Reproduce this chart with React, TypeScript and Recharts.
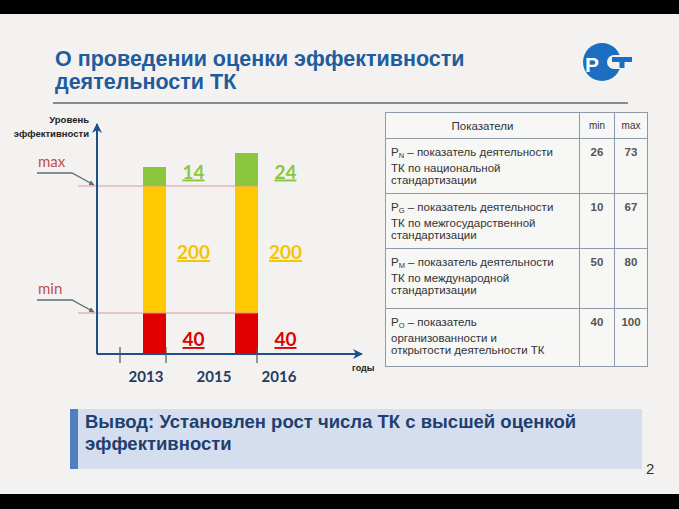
import React from 'react';
import { BarChart, Bar, XAxis, YAxis, ReferenceLine, LabelList, Label } from 'recharts';

// categories on the x axis (2015 has no column in the original slide)
const years = ['2013', '2015', '2016'];

// visual level of each band (arbitrary "effectiveness level" units)
const belowMinLevel = [20.5, null, 20.5];
const minToMaxLevel = [63.5, null, 63.5];
const aboveMaxLevel = [9.5, null, 16.5];

// number of TCs in each band (the printed labels)
const countBelowMin = [40, null, 40];
const countMinToMax = [200, null, 200];
const countAboveMax = [14, null, 24];

const minLevel = 20.5;
const maxLevel = 84;

const tableRows = [
  { sub: 'N', lines: [' – показатель деятельности', 'ТК по национальной', 'стандартизации'], min: 26, max: 73 },
  { sub: 'G', lines: [' – показатель деятельности', 'ТК по межгосударственной', 'стандартизации'], min: 10, max: 67 },
  { sub: 'M', lines: [' – показатель деятельности', 'ТК по международной', 'стандартизации'], min: 50, max: 80 },
  { sub: 'O', lines: [' – показатель', 'организованности и', 'открытости деятельности ТК'], min: 40, max: 100 },
];
const rowHeights = [47, 49, 60, 58];

const chartData = years.map((year, i) => ({
  year,
  belowMin: belowMinLevel[i],
  minToMax: minToMaxLevel[i],
  aboveMax: aboveMaxLevel[i],
  nBelow: countBelowMin[i],
  nMid: countMinToMax[i],
  nAbove: countAboveMax[i],
}));

const AXIS = '#1F4E8C';
const RED = '#E00000';
const YELLOW = '#FFC800';
const GREEN = '#8CC63F';
const LEVEL = '#D99AA0';
const NUM_FONT = 'Lato, "Open Sans", sans-serif';
const BG = '#F3F2F0';

// hand-placed tick marks / labels of the original slide, relative to category centre
const tickMarkDx = [-34, -34, 11];
const tickLabelDx = [-8, 14, 33];

const YearTick = (props: any) => {
  const { x, y, payload, index } = props;
  return (
    <g>
      <line x1={x + tickMarkDx[index]} x2={x + tickMarkDx[index]} y1={y - 7} y2={y + 9} stroke="#555" strokeWidth={1.2} />
      <text x={x + tickLabelDx[index]} y={y + 28} textAnchor="middle" fill="#243A5E" fontSize={15} fontWeight={700} fontFamily={NUM_FONT}>
        {payload.value}
      </text>
    </g>
  );
};

const countLabel = (color: string, dyFromBottom: number | null, dyFromMiddle?: number) => (props: any) => {
  const { x, y, width, height, value } = props;
  if (value == null || x == null) return null;
  const ty = dyFromBottom != null ? y + height - dyFromBottom : y + height / 2 + (dyFromMiddle || 0);
  return (
    <text
      x={x + width / 2 + 39}
      y={ty}
      textAnchor="middle"
      fill={color}
      fontSize={19}
      fontWeight={700}
      fontFamily={NUM_FONT}
      textDecoration="underline"
    >
      {value}
    </text>
  );
};

const LevelMark = (props: any) => {
  const { x1, y1, name } = props;
  if (x1 == null || y1 == null) return null;
  return (
    <g>
      <line x1={x1 - 19} x2={x1 + 160} y1={y1} y2={y1} stroke={LEVEL} strokeWidth={1.2} />
      <polyline
        points={`${x1 - 60},${y1 - 13} ${x1 - 25},${y1 - 13} ${x1 - 3},${y1 - 1}`}
        fill="none"
        stroke="#5F6F70"
        strokeWidth={1.4}
        markerEnd="url(#leaderArrow)"
      />
      <text x={x1 - 59} y={y1 - 19} fill="#C0504D" fontSize={15} fontFamily={NUM_FONT}>
        {name}
      </text>
    </g>
  );
};

const YTitle = (props: any) => {
  const vb = props.viewBox || { x: 95, y: 14, width: 2 };
  const ax = vb.x + (vb.width || 0);
  return (
    <g fontFamily='"Liberation Sans", Arial, sans-serif' fontSize={9.5} fontWeight={700} fill="#222" textAnchor="end">
      <text x={ax - 8} y={vb.y - 1}>Уровень</text>
      <text x={ax - 8} y={vb.y + 12.5}>эффективности</text>
    </g>
  );
};

const XTitle = (props: any) => {
  const vb = props.viewBox || { x: 97, y: 244, width: 265 };
  return (
    <text x={vb.x + vb.width - 10} y={vb.y + 17} fontFamily='"Liberation Sans", Arial, sans-serif' fontSize={9} fontWeight={700} fill="#222">
      годы
    </text>
  );
};

const Logo = () => (
  <svg width={60} height={46} viewBox="575 39 60 46" style={{ position: 'absolute', left: 575, top: 39 }}>
    <circle cx={602} cy={62} r={19} fill="#1B6EC2" />
    <circle cx={614} cy={62} r={7} fill={BG} />
    <rect x={614} y={55} width={14} height={14} fill={BG} />
    <rect x={612} y={57} width={20} height={5} fill="#1B6EC2" />
    <rect x={619.5} y={57} width={5} height={11} fill="#1B6EC2" />
    <text x={585} y={72} fill="#fff" fontSize={21} fontWeight={700} fontFamily='"Liberation Sans", Arial, sans-serif'>Р</text>
  </svg>
);

const cell: React.CSSProperties = {
  border: '1px solid #8E9AA8',
  verticalAlign: 'top',
  padding: '7px 5px',
};

const App: React.FC = () => {
  return (
    <div style={{ position: 'absolute', left: 0, top: 0, width: 679, height: 509, background: BG, overflow: 'hidden' }}>
      <svg width={0} height={0} style={{ position: 'absolute' }}>
        <defs>
          <marker id="axisArrow" viewBox="0 0 10 10" refX="9" refY="5" markerWidth="5" markerHeight="5" orient="auto-start-reverse">
            <path d="M0,0 L10,5 L0,10 L3,5 z" fill={AXIS} />
          </marker>
          <marker id="leaderArrow" viewBox="0 0 10 10" refX="9" refY="5" markerWidth="4" markerHeight="4" orient="auto">
            <path d="M0,0 L10,5 L0,10 z" fill="#5F6F70" />
          </marker>
        </defs>
      </svg>

      <div style={{ position: 'absolute', left: 0, top: 0, width: 679, height: 14, background: '#000' }} />
      <div style={{ position: 'absolute', left: 0, top: 494, width: 679, height: 15, background: '#000' }} />

      <div
        style={{
          position: 'absolute',
          left: 55,
          top: 48,
          fontFamily: '"Liberation Sans", Arial, sans-serif',
          fontWeight: 700,
          fontSize: 21.5,
          lineHeight: '23px',
          color: '#1F5C9E',
        }}
      >
        О проведении оценки эффективности
        <br />
        деятельности ТК
      </div>
      <div style={{ position: 'absolute', left: 53, top: 102, width: 575, height: 2, background: '#8A8A8A' }} />
      <Logo />

      <div style={{ position: 'absolute', left: 0, top: 110 }}>
        <BarChart width={380} height={280} data={chartData} margin={{ top: 14, right: 18, bottom: 0, left: 95 }} barSize={23}>
          <YAxis
            width={2}
            domain={[0, 115]}
            type="number"
            tick={false}
            tickLine={false}
            axisLine={{ stroke: AXIS, strokeWidth: 2, markerStart: 'url(#axisArrow)' }}
          >
            <Label content={<YTitle />} />
          </YAxis>
          <XAxis
            dataKey="year"
            height={36}
            padding={{ left: 34, right: 93 }}
            tickLine={false}
            tickSize={0}
            tickMargin={0}
            tick={<YearTick />}
            interval={0}
            axisLine={{ stroke: AXIS, strokeWidth: 2, markerEnd: 'url(#axisArrow)' }}
          >
            <Label content={<XTitle />} />
          </XAxis>
          <ReferenceLine y={maxLevel} shape={(p: any) => <LevelMark {...p} name="max" />} />
          <ReferenceLine y={minLevel} shape={(p: any) => <LevelMark {...p} name="min" />} />
          <Bar dataKey="belowMin" stackId="a" fill={RED} isAnimationActive={false}>
            <LabelList dataKey="nBelow" content={countLabel(RED, 8)} />
          </Bar>
          <Bar dataKey="minToMax" stackId="a" fill={YELLOW} isAnimationActive={false}>
            <LabelList dataKey="nMid" content={countLabel('#F5C400', null, 9.5)} />
          </Bar>
          <Bar dataKey="aboveMax" stackId="a" fill={GREEN} isAnimationActive={false}>
            <LabelList dataKey="nAbove" content={countLabel(GREEN, 7.5)} />
          </Bar>
        </BarChart>
      </div>

      <table
        style={{
          position: 'absolute',
          left: 385,
          top: 112,
          width: 262,
          borderCollapse: 'collapse',
          background: '#F7F7F6',
          fontFamily: '"Liberation Sans", Arial, sans-serif',
          fontSize: 11.5,
          lineHeight: '12px',
          color: '#333',
          tableLayout: 'fixed',
        }}
      >
        <colgroup>
          <col style={{ width: 194 }} />
          <col style={{ width: 35 }} />
          <col style={{ width: 33 }} />
        </colgroup>
        <tbody>
          <tr style={{ height: 26 }}>
            <td style={{ ...cell, textAlign: 'center', verticalAlign: 'middle', padding: 0 }}>Показатели</td>
            <td style={{ ...cell, textAlign: 'center', verticalAlign: 'middle', padding: 0, fontSize: 10 }}>min</td>
            <td style={{ ...cell, textAlign: 'center', verticalAlign: 'middle', padding: 0, fontSize: 10 }}>max</td>
          </tr>
          {tableRows.map((r, i) => (
            <tr key={r.sub} style={{ height: rowHeights[i] }}>
              <td style={{ ...cell, whiteSpace: 'nowrap' }}>
                P<sub style={{ fontSize: 7.5, verticalAlign: -2 }}>{r.sub}</sub>
                {r.lines[0]}
                <br />
                {r.lines[1]}
                <br />
                {r.lines[2]}
              </td>
              <td style={{ ...cell, textAlign: 'center', fontWeight: 700, color: '#555' }}>{r.min}</td>
              <td style={{ ...cell, textAlign: 'center', fontWeight: 700, color: '#555' }}>{r.max}</td>
            </tr>
          ))}
        </tbody>
      </table>

      <div
        style={{
          position: 'absolute',
          left: 70,
          top: 409,
          width: 572,
          height: 60,
          background: '#D5DEEE',
          borderLeft: '8px solid #4F7FC0',
          padding: '2px 0 0 7px',
          boxSizing: 'border-box',
          fontFamily: '"Liberation Sans", Arial, sans-serif',
          fontWeight: 700,
          fontSize: 18.5,
          lineHeight: '21.5px',
          color: '#1F3F6E',
        }}
      >
        Вывод: Установлен рост числа ТК с высшей оценкой
        <br />
        эффективности
      </div>
      <div style={{ position: 'absolute', left: 646, top: 460, fontFamily: '"Liberation Sans", Arial, sans-serif', fontSize: 15, color: '#333' }}>2</div>
    </div>
  );
};

export default App;
